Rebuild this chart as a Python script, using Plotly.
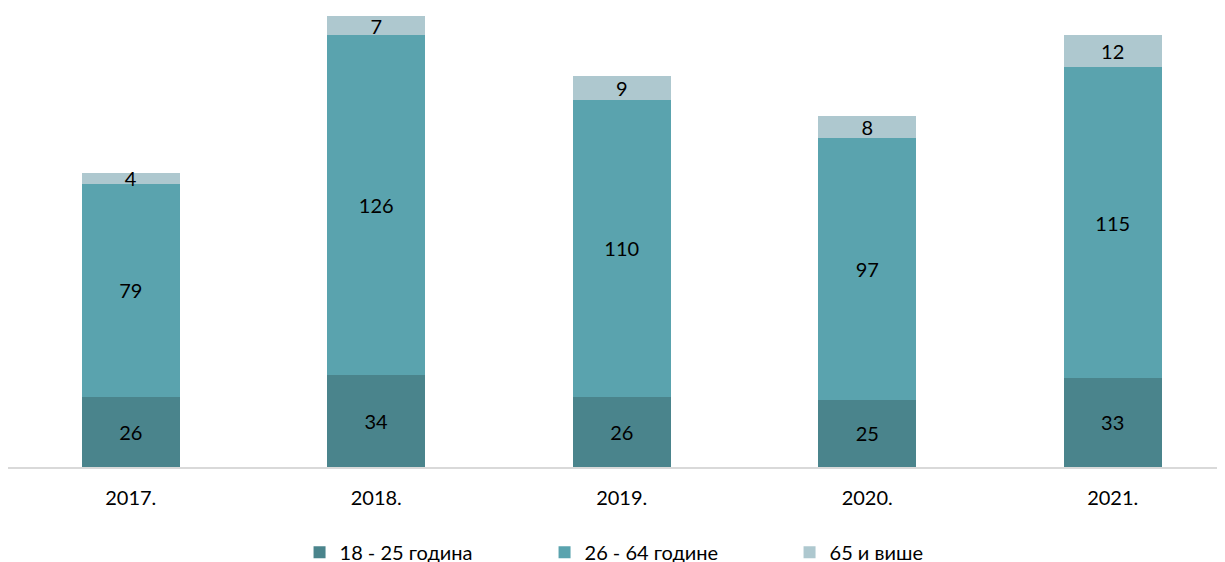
import plotly.graph_objects as go

years = ["2017.", "2018.", "2019.", "2020.", "2021."]
age_18_25 = [26, 34, 26, 25, 33]
age_26_64 = [79, 126, 110, 97, 115]
age_65_plus = [4, 7, 9, 8, 12]

series = [
    ("18 - 25 година", age_18_25, "#4a848c"),
    ("26 - 64 године", age_26_64, "#5aa3ae"),
    ("65 и више", age_65_plus, "#aec8cf"),
]

FONT = "Lato, 'Open Sans', sans-serif"

fig = go.Figure()
for name, vals, color in series:
    fig.add_trace(go.Bar(
        x=years, y=vals, name=name,
        marker=dict(color=color, line=dict(width=0)),
        width=0.4,
        text=[str(v) for v in vals],
        textposition="inside",
        insidetextanchor="middle",
        textangle=0,
        constraintext="none",
        textfont=dict(color="#000000", size=20, family=FONT),
        cliponaxis=False,
        hoverinfo="skip",
    ))

fig.update_layout(
    barmode="stack",
    width=1225, height=562,
    margin=dict(l=0, r=0, t=0, b=103, autoexpand=False),
    paper_bgcolor="white", plot_bgcolor="white",
    font=dict(family=FONT, size=20, color="#000000"),
    showlegend=True,
    legend=dict(
        orientation="h", x=0.538, xanchor="center", y=-0.143, yanchor="top",
        font=dict(size=20, family=FONT, color="#000000"),
        entrywidth=200, traceorder="normal",
        itemwidth=30,
    ),
    xaxis=dict(
        type="category", range=[-0.5, 4.49],
        showline=True, linecolor="#d9d9d9", linewidth=2,
        ticks="", showgrid=False, zeroline=False,
        ticklabelstandoff=12, automargin=False,
        tickfont=dict(size=20, family=FONT, color="#000000"),
    ),
    yaxis=dict(
        range=[0, 170], visible=False, showgrid=False, zeroline=False,
        automargin=False,
    ),
)

fig.write_html("out.html")
